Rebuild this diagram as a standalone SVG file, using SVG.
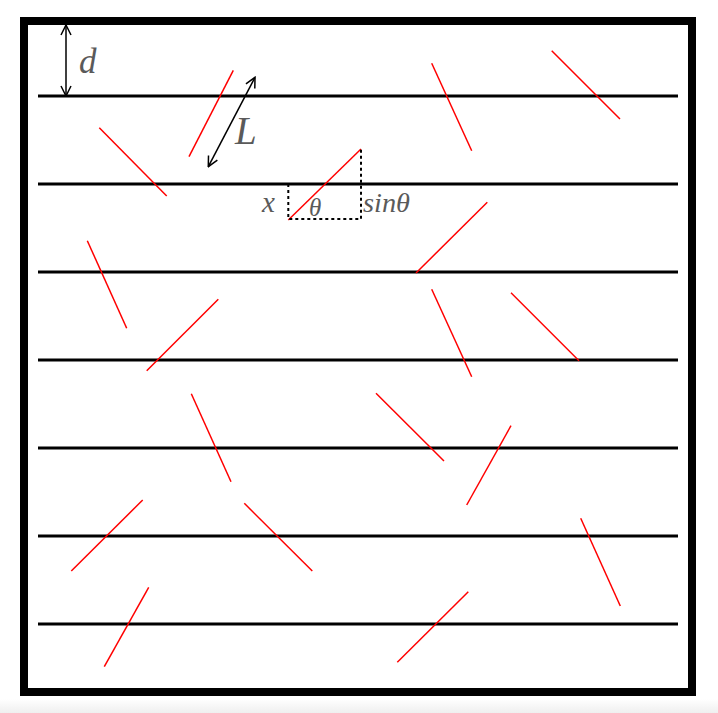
<svg xmlns="http://www.w3.org/2000/svg" width="718" height="713" viewBox="0 0 718 713">
<style>
.grid{stroke:#000;stroke-width:3;fill:none}
.needle{stroke:#ff0000;stroke-width:1.5;fill:none}
.dim{stroke:#000;stroke-width:1.5;fill:none}
.dot{stroke:#000;stroke-width:2;stroke-dasharray:3 3;fill:none}
.lbl{font-family:"Liberation Serif","DejaVu Serif",serif;font-style:italic;fill:#5a5a5a}
</style>
<defs>
<marker id="ah" viewBox="0 0 12 12" refX="11" refY="6" markerWidth="12" markerHeight="12" markerUnits="userSpaceOnUse" orient="auto-start-reverse">
<path d="M1,1 L11,6 L1,11" fill="none" stroke="#000" stroke-width="1.5"/>
</marker>
<linearGradient id="bg" x1="0" y1="0" x2="0" y2="1">
<stop offset="0" stop-color="#ffffff"/>
<stop offset="1" stop-color="#efefef"/>
</linearGradient>
</defs>
<rect x="0" y="0" width="718" height="713" fill="#fff"/>
<rect x="0" y="699" width="718" height="14" fill="url(#bg)"/>
<g id="frame">
<rect x="24" y="21" width="668" height="671" fill="#fff" stroke="#000" stroke-width="8"/>
</g>
<g id="lines">
<line class="grid" x1="38" y1="96" x2="678" y2="96"/>
<line class="grid" x1="38" y1="184" x2="678" y2="184"/>
<line class="grid" x1="38" y1="272" x2="678" y2="272"/>
<line class="grid" x1="38" y1="360" x2="678" y2="360"/>
<line class="grid" x1="38" y1="448" x2="678" y2="448"/>
<line class="grid" x1="38" y1="536" x2="678" y2="536"/>
<line class="grid" x1="38" y1="624" x2="678" y2="624"/>
</g>
<g id="needles">
<line class="needle" x1="233.3" y1="70.3" x2="189" y2="156.7"/>
<line class="needle" x1="99.3" y1="127.7" x2="166.7" y2="196"/>
<line class="needle" x1="431.7" y1="63.3" x2="471.7" y2="150.7"/>
<line class="needle" x1="551.7" y1="50.7" x2="620" y2="119"/>
<line class="needle" x1="288.3" y1="220" x2="361" y2="149"/>
<line class="needle" x1="487.3" y1="202.3" x2="416" y2="273"/>
<line class="needle" x1="87.3" y1="240.7" x2="126.7" y2="328.3"/>
<line class="needle" x1="218.3" y1="299.3" x2="146.7" y2="370.7"/>
<line class="needle" x1="431.7" y1="289.3" x2="471.7" y2="376.7"/>
<line class="needle" x1="511" y1="292.7" x2="579" y2="360.7"/>
<line class="needle" x1="191.3" y1="393.7" x2="231" y2="481.7"/>
<line class="needle" x1="376" y1="393.3" x2="444" y2="461"/>
<line class="needle" x1="511" y1="425.7" x2="466.7" y2="505"/>
<line class="needle" x1="142.7" y1="500" x2="71.3" y2="571"/>
<line class="needle" x1="244.3" y1="503.3" x2="312.3" y2="571"/>
<line class="needle" x1="580.7" y1="518.3" x2="620.3" y2="606"/>
<line class="needle" x1="148.7" y1="587.3" x2="104.3" y2="666.7"/>
<line class="needle" x1="468.3" y1="591.7" x2="397.3" y2="662.3"/>
</g>
<g id="connectors">
<line class="dim" x1="66" y1="25" x2="66" y2="96" marker-start="url(#ah)" marker-end="url(#ah)"/>
<line class="dim" x1="255" y1="77.3" x2="208.3" y2="166.7" marker-start="url(#ah)" marker-end="url(#ah)"/>
<polyline class="dot" points="288.3,184 288.3,219 361,219 361,149"/>
</g>
<g id="labels">
<text class="lbl" x="79" y="73" font-size="35">d</text>
<text class="lbl" x="235" y="144" font-size="39">L</text>
<text class="lbl" x="262" y="212" font-size="29">x</text>
<text class="lbl" x="309" y="216" font-size="25">θ</text>
<text class="lbl" x="363" y="212" font-size="27" textLength="47" lengthAdjust="spacingAndGlyphs">sinθ</text>
</g>
</svg>
